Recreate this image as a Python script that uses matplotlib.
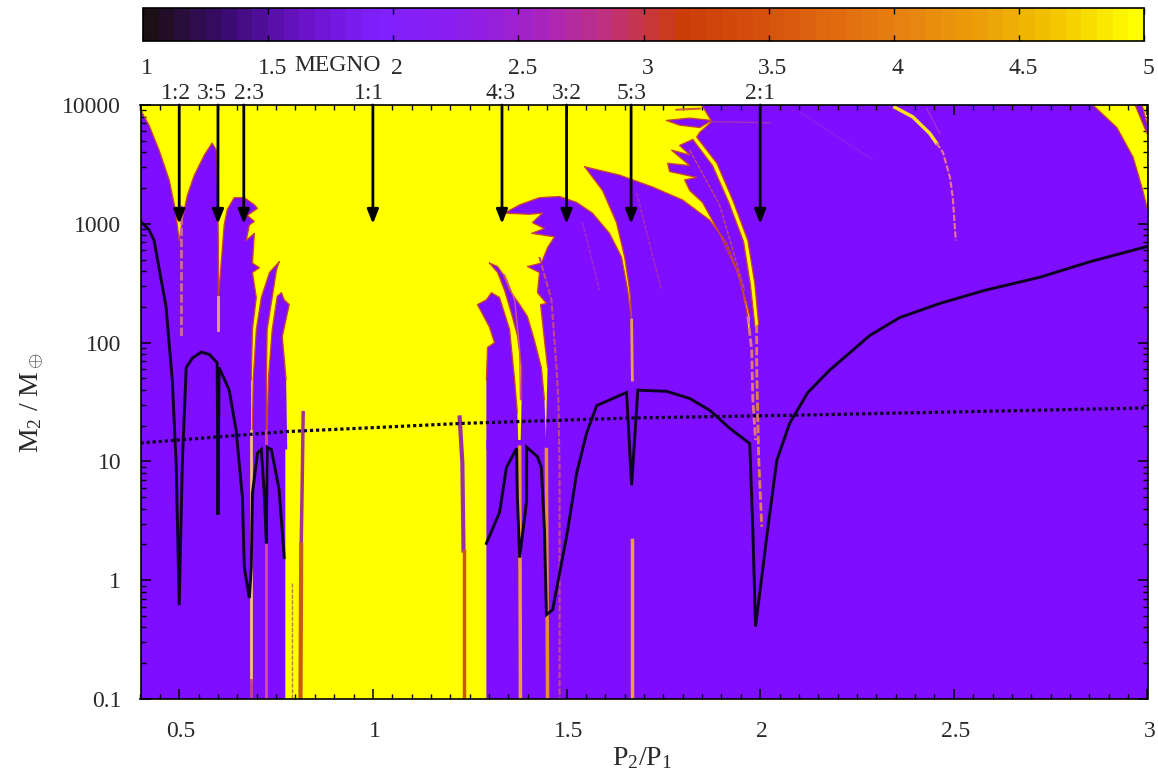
import numpy as np
import matplotlib
matplotlib.use("Agg")
import matplotlib.pyplot as plt
from matplotlib.cm import ScalarMappable
from matplotlib.colors import LinearSegmentedColormap, Normalize
from matplotlib.ticker import LogLocator, NullFormatter
from matplotlib.transforms import ScaledTranslation

plt.rcParams['font.family'] = ['Liberation Serif', 'DejaVu Serif']
plt.rcParams['mathtext.fontset'] = 'custom'
plt.rcParams['mathtext.rm'] = 'Liberation Serif'
plt.rcParams['mathtext.it'] = 'Liberation Serif'

PURPLE = '#7f0dff'
YELLOW = '#ffff00'
FRINGE = '#c8442e'
TEXT = '#2a2a2a'

# all outlines below are (P2/P1, log10 M2)
chaotic_main = [(0.40, 4), (1.849, 4), (1.875, 3.86), (1.844, 3.77), (1.836, 3.73), (1.888, 3.51),
                (1.929, 3.20), (1.968, 2.86), (1.986, 2.50), (1.996, 2.15), (1.451, 1.18), (1.293, 1.18),
                (1.293, -1), (0.774, -1), (0.774, 1.26), (0.686, 1.26), (0.686, 1.685), (0.689, 2.11),
                (0.699, 2.38), (0.689, 2.59), (0.707, 2.63), (0.689, 2.67), (0.694, 2.92), (0.673, 2.86),
                (0.681, 2.99), (0.694, 3.02), (0.676, 3.07), (0.702, 3.13), (0.694, 3.16), (0.668, 3.22),
                (0.642, 3.22), (0.624, 3.12), (0.616, 2.99), (0.609, 2.70), (0.601, 2.38), (0.601, 2.86),
                (0.598, 3.45), (0.596, 3.62), (0.585, 3.68), (0.565, 3.58), (0.539, 3.41), (0.521, 3.24),
                (0.510, 3.07), (0.500, 2.86), (0.490, 3.12), (0.474, 3.37), (0.448, 3.62), (0.422, 3.83),
                (0.40, 3.96)]
chaotic_right = [(2.859, 4), (2.921, 3.81), (2.963, 3.56), (2.988, 3.28), (3.0, 3.12), (3.0, 4)]

stable_sliver_a = [(0.758, 2.68), (0.733, 2.59), (0.712, 2.38), (0.699, 2.11), (0.691, 1.685), (0.689, 1.26),
                   (0.691, 1.10), (0.727, 1.10), (0.725, 1.26), (0.725, 1.685), (0.727, 2.11), (0.740, 2.38),
                   (0.751, 2.61)]
stable_sliver_b = [(0.764, 2.42), (0.753, 2.39), (0.740, 2.11), (0.730, 1.685), (0.727, 1.26), (0.727, 1.10),
                   (0.779, 1.10), (0.776, 1.685), (0.766, 2.05), (0.784, 2.32), (0.771, 2.36)]
stable_r1 = [(1.270, 2.32), (1.301, 2.13), (1.314, 2.0), (1.296, 1.96), (1.293, 1.685), (1.293, 1.10),
             (1.376, 1.10), (1.373, 1.41), (1.366, 1.685), (1.353, 2.11), (1.327, 2.38), (1.306, 2.42),
             (1.293, 2.36)]
stable_r2 = [(1.301, 2.67), (1.322, 2.64), (1.337, 2.57), (1.353, 2.44), (1.379, 2.32), (1.399, 2.22),
             (1.417, 2.02), (1.435, 1.79), (1.443, 1.52), (1.448, 1.10), (1.381, 1.10), (1.384, 1.52),
             (1.384, 1.79), (1.373, 2.06), (1.360, 2.22), (1.340, 2.44), (1.322, 2.59)]
stable_r3 = [(1.340, 3.09), (1.379, 3.16), (1.430, 3.22), (1.482, 3.23), (1.526, 3.18), (1.567, 3.09),
             (1.611, 2.92), (1.642, 2.72), (1.658, 2.44), (1.668, 2.19), (1.673, 1.10), (1.446, 1.10),
             (1.451, 1.79), (1.443, 2.02), (1.433, 2.32), (1.448, 2.33), (1.425, 2.42), (1.430, 2.59),
             (1.399, 2.64), (1.435, 2.67), (1.451, 2.80), (1.469, 2.89), (1.410, 2.92), (1.443, 2.96),
             (1.412, 3.01), (1.438, 3.09), (1.404, 3.08)]
stable_r4 = [(1.547, 3.48), (1.637, 3.41), (1.722, 3.31), (1.800, 3.20), (1.870, 3.03), (1.913, 2.84),
             (1.947, 2.55), (1.968, 2.22), (1.978, 1.10), (1.668, 1.10), (1.668, 2.22), (1.663, 2.44),
             (1.650, 2.72), (1.629, 3.01), (1.593, 3.28)]
stable_r5 = [(1.826, 3.71), (1.877, 3.49), (1.919, 3.18), (1.957, 2.85), (1.975, 2.48), (1.986, 2.15),
             (1.986, 1.10), (1.968, 1.10), (1.973, 2.22), (1.965, 2.33), (1.939, 2.61), (1.895, 2.92),
             (1.851, 3.18), (1.818, 3.28), (1.805, 3.37), (1.836, 3.39), (1.766, 3.44), (1.761, 3.51),
             (1.818, 3.49), (1.771, 3.62), (1.818, 3.58), (1.792, 3.66)]
stable_top = [(1.758, 3.87), (1.818, 3.89), (1.875, 3.87), (1.844, 3.81), (1.792, 3.83)]
stable_corner = [(2.968, 4), (2.986, 4), (3.0, 3.83), (3.0, 3.75)]
stable_patches = [stable_sliver_a, stable_sliver_b, stable_r1, stable_r2, stable_r3, stable_r4, stable_r5,
                  stable_top, stable_corner]

# thin resonance stripes: points, colour, width, dashed
stripes = [
    ([(0.505, 3.16), (0.505, 2.05)], '#cf6a98', 2, True),
    ([(0.601, 2.38), (0.601, 2.11)], '#e8a878', 2, False),
    ([(0.686, 1.26), (0.686, -0.84)], '#f2c078', 2, False),
    ([(0.686, -0.84), (0.686, -1)], '#c8408c', 2, False),
    ([(0.725, 1.26), (0.725, -1)], '#d05090', 2, False),
    ([(0.792, -0.02), (0.792, -1)], '#c08030', 1, True),
    ([(0.820, 1.41), (0.818, 0.93), (0.815, 0.30)], '#a8308a', 2.5, False),
    ([(0.815, 0.30), (0.813, -1)], '#c85a10', 3, False),
    ([(1.224, 1.37), (1.231, 0.99), (1.234, 0.25)], '#9a30a0', 3, False),
    ([(1.234, 0.25), (1.234, -1)], '#c85a10', 2.5, False),
    ([(1.340, 2.57), (1.366, 2.36), (1.379, 1.94), (1.381, 1.52)], '#d05090', 1, False),
    ([(1.379, 1.12), (1.381, -1)], '#f0a030', 2.5, False),
    ([(1.448, 1.10), (1.451, -1)], '#e89030', 2.5, False),
    ([(1.430, 2.72), (1.461, 2.36), (1.474, 1.79), (1.479, 1.52), (1.482, 0.95), (1.482, -1)], '#c04a80', 1.5, True),
    ([(1.668, 2.19), (1.670, 1.685)], '#e8a050', 2, False),
    ([(1.668, 0.34), (1.668, -1)], '#f0a030', 2.5, False),
    ([(1.541, 3.01), (1.585, 2.44)], '#a030c8', 1, True),
    ([(1.681, 3.26), (1.745, 2.44)], '#a830b0', 1, True),
    ([(1.968, 2.22), (1.978, 1.94), (1.981, 1.52), (1.988, 1.18)], '#e07880', 2, True),
    ([(1.991, 2.15), (1.991, 1.79), (1.996, 1.04), (2.004, 0.45)], '#e08050', 2, True),
    ([(1.818, 3.62), (1.895, 3.16), (1.960, 2.44)], '#c04a70', 1, True),
    ([(2.430, 3.97), (2.464, 3.76)], '#a030d0', 1, False),
    ([(2.102, 3.94), (2.291, 3.54)], '#8a20e8', 1, False),
    ([(1.784, 3.96), (1.844, 3.97)], '#d06030', 1.5, False),
    ([(1.875, 3.86), (2.025, 3.85)], '#a030c0', 1, False),
    ([(2.348, 3.98), (2.394, 3.90), (2.438, 3.76), (2.455, 3.68)], '#ffe020', 2.5, False),
    ([(2.455, 3.68), (2.472, 3.60), (2.490, 3.39), (2.497, 3.23), (2.505, 2.86)], '#e87a88', 1.5, True),
]

left_curve = [(0.40, 3.02), (0.422, 2.95), (0.435, 2.86), (0.466, 2.30), (0.482, 1.685), (0.492, 0.99),
              (0.5, -0.21), (0.508, 0.99), (0.518, 1.79), (0.534, 1.87), (0.557, 1.92), (0.578, 1.90),
              (0.598, 1.83), (0.6, 0.55), (0.603, 1.79), (0.629, 1.60), (0.647, 1.26), (0.663, 0.70),
              (0.668, 0.11), (0.681, -0.15), (0.686, 0.11), (0.689, 0.73), (0.702, 1.07), (0.712, 1.10),
              (0.720, 0.70), (0.725, 0.31), (0.727, 1.12), (0.738, 1.10), (0.758, 0.76), (0.771, 0.19)]
right_curve = [(1.293, 0.31), (1.327, 0.57), (1.345, 0.95), (1.371, 1.11), (1.373, 0.70), (1.379, 0.19),
               (1.397, 0.67), (1.397, 1.12), (1.425, 1.04), (1.435, 0.95), (1.443, 0.42), (1.448, -0.29),
               (1.464, -0.25), (1.503, 0.42), (1.526, 0.90), (1.552, 1.24), (1.578, 1.47), (1.655, 1.58),
               (1.668, 0.80), (1.684, 1.60), (1.758, 1.59), (1.818, 1.53), (1.870, 1.43), (1.921, 1.28),
               (1.973, 1.15), (1.981, 0.42), (1.988, -0.39), (2.019, 0.42), (2.043, 1.01), (2.076, 1.32),
               (2.123, 1.58), (2.180, 1.77), (2.283, 2.06), (2.360, 2.21), (2.464, 2.33), (2.580, 2.44),
               (2.722, 2.55), (2.851, 2.68), (3.0, 2.81)]
dotted_curve = [(0.4, 1.155), (0.771, 1.25), (0.973, 1.28), (1.231, 1.32), (1.663, 1.365), (2.11, 1.39), (3.0, 1.45)]

res_x = [0.5, 0.6, 2 / 3, 1, 4 / 3, 1.5, 5 / 3, 2]
res_label_x = [0.492, 0.585, 0.68, 0.99, 1.33, 1.5, 5 / 3, 2]
res_labels = ['1:2', '3:5', '2:3', '1:1', '4:3', '3:2', '5:3', '2:1']

bar_ticks = [1, 1.5, 2, 2.5, 3, 3.5, 4, 4.5, 5]
bar_labels = ['1', '1.5', '2', '2.5', '3', '3.5', '4', '4.5', '5']
bar_colors = ['#1c1014', '#3a0a70', '#6a12c8', '#8020ff', '#8a1ef0', '#a322c8', '#c03080', '#cc3c08',
              '#d44f0c', '#e06a10', '#e88410', '#eca008', '#f4c800', '#ffff00']


def xy(points):
    pts = np.array(points)
    return pts[:, 0], 10 ** pts[:, 1]


def fringe(ax, points, closed=True, lw=0.9, zorder=2.5):
    # the orange edge, not along the straight cut-offs low down
    pts = list(points) + [points[0]] if closed else list(points)
    pts = np.array(pts, dtype=float)
    pts[pts[:, 1] < 1.19, 0] = np.nan
    ax.plot(pts[:, 0], 10 ** pts[:, 1], color=FRINGE, lw=lw, zorder=zorder, solid_capstyle='round')


def shift_labels(labels, fig, dx):
    for label in labels:
        label.set_transform(label.get_transform() + ScaledTranslation(dx / 100, 0, fig.dpi_scale_trans))


W, H = 1158, 784
fig = plt.figure(figsize=(W / 100, H / 100), dpi=100)
ax = fig.add_axes([140.5 / W, (H - 699) / H, 1007 / W, 594 / H])
ax.set_facecolor(PURPLE)
ax.set_yscale('log')
ax.set_xlim(0.4, 3)
ax.set_ylim(0.1, 10000)

ax.fill(*xy(chaotic_main), color=YELLOW, lw=0, zorder=1)
ax.fill(*xy(chaotic_right), color=YELLOW, lw=0, zorder=1)
fringe(ax, chaotic_main[1:10], closed=False)
fringe(ax, chaotic_main[16:], closed=False)
fringe(ax, chaotic_right[:5], closed=False)
for patch in stable_patches:
    ax.fill(*xy(patch), color=PURPLE, lw=0, zorder=3)
    fringe(ax, patch, zorder=3.1)

for points, color, width, dashed in stripes:
    ax.plot(*xy(points), color=color, lw=width, ls=(0, (3, 1)) if dashed else '-', zorder=4)

ax.plot(*xy(left_curve), color='#0c0420', lw=2.1, zorder=5, solid_joinstyle='miter')
ax.plot(*xy(right_curve), color='#0c0420', lw=2.1, zorder=5, solid_joinstyle='miter')
ax.plot(*xy(dotted_curve), color='#0c0420', lw=2.3, ls=(0, (1, 0.9)), zorder=5)

for x in res_x:
    ax.annotate('', xy=(x, 1000), xytext=(x, 10000), zorder=6,
                arrowprops=dict(arrowstyle='-|>,head_width=0.34,head_length=0.85', color='black', lw=2.0,
                                shrinkA=0, shrinkB=0))
for x, label in zip(res_label_x, res_labels):
    ax.text(x, 1.02, label, transform=ax.get_xaxis_transform(), ha='center', va='center', fontsize=17, color=TEXT)

ax.set_xticks([0.5, 1, 1.5, 2, 2.5, 3])
ax.set_xticklabels(['0.5', '1', '1.5', '2', '2.5', '3'])
ax.set_xticks(np.arange(0.4, 3.01, 0.05), minor=True)
ax.set_yticks([0.1, 1, 10, 100, 1000, 10000])
ax.set_yticklabels(['0.1', '1', '10', '100', '1000', '10000'])
ax.yaxis.set_minor_locator(LogLocator(base=10, subs=np.arange(2, 10), numticks=12))
ax.yaxis.set_minor_formatter(NullFormatter())
ax.tick_params(which='both', direction='in', top=True, right=True, color='black', zorder=7)
ax.tick_params(which='major', length=7, width=1.1, labelsize=17, labelcolor=TEXT)
ax.tick_params(axis='x', which='major', pad=16)
ax.tick_params(axis='y', which='major', pad=14)
ax.tick_params(which='minor', length=3.5, width=1.0)
shift_labels(ax.get_xticklabels(), fig, 2)
for spine in ax.spines.values():
    spine.set_linewidth(1.2)
    spine.set_zorder(8)
ax.set_xlabel(r'P$_2$/P$_1$', fontsize=20, color=TEXT, labelpad=2, x=0.498)
ax.set_ylabel(r'M$_2$ / M$_\oplus$', fontsize=20, color=TEXT, labelpad=11, y=0.50)

# colour bar along the top
cax = fig.add_axes([143 / W, (H - 41) / H, 1001 / W, 33 / H])
cmap = LinearSegmentedColormap.from_list('megno', bar_colors, N=64)
bar = fig.colorbar(ScalarMappable(norm=Normalize(1, 5), cmap=cmap), cax=cax, orientation='horizontal')
bar.set_ticks(bar_ticks)
bar.set_ticklabels(bar_labels)
bar.minorticks_off()
bar.outline.set_linewidth(1.2)
cax.tick_params(direction='in', top=True, bottom=True, length=4, width=1, labelsize=17, labelcolor=TEXT, pad=12)
shift_labels(cax.get_xticklabels(), fig, 4)
cax.text(0.194, -0.73, 'MEGNO', transform=cax.transAxes, ha='center', va='center', fontsize=17, color=TEXT)

fig.savefig('out.png', dpi=100)
